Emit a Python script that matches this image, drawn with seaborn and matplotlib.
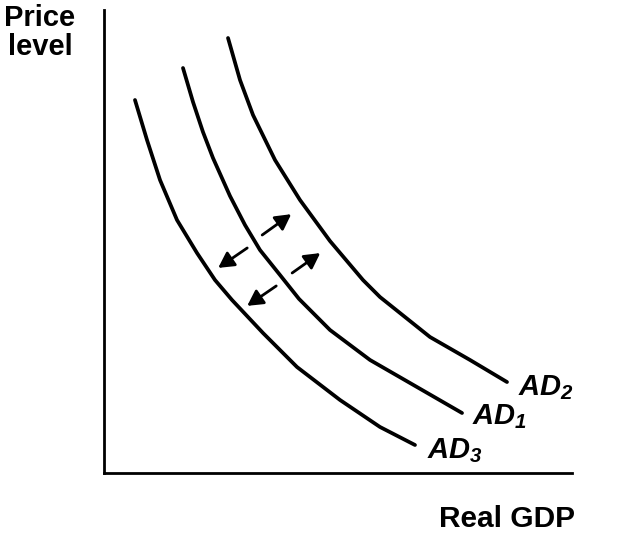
import seaborn as sns
import matplotlib.pyplot as plt
import pandas as pd

# curve points (Real GDP, Price level), axes run 0..100
ad3_x = [6.62, 9.19, 11.97, 15.60, 19.87, 23.72, 27.35, 33.97, 41.24, 50.43, 58.97, 66.45]
ad3_y = [80.56, 71.92, 63.28, 54.64, 47.52, 41.68, 37.37, 30.24, 22.89, 15.77, 9.94, 6.05]
ad1_x = [16.88, 19.02, 21.15, 23.29, 26.92, 30.13, 33.33, 37.61, 41.67, 48.29, 56.84, 65.38, 76.50]
ad1_y = [87.47, 80.13, 73.65, 68.03, 59.83, 53.56, 48.16, 42.76, 37.60, 30.89, 24.41, 19.44, 12.96]
ad2_x = [26.50, 29.06, 31.84, 36.54, 41.88, 48.29, 55.34, 58.97, 69.66, 78.21, 86.11]
ad2_y = [93.95, 84.88, 77.32, 67.60, 58.96, 50.10, 41.68, 38.01, 29.37, 24.41, 19.65]

curve_names = ['AD3', 'AD1', 'AD2']
label_text = [r'$AD_3$', r'$AD_1$', r'$AD_2$']
label_x = [69.0, 78.6, 88.5]
label_y = [3.2, 10.6, 16.8]

# shift arrows: (start, end)
arrows_out = [((33.8, 51.4), (40.0, 55.9)), ((40.2, 43.2), (46.2, 47.5))]
arrows_in = [((30.6, 48.6), (24.4, 44.3)), ((36.8, 40.4), (30.6, 36.1))]

rows = []
for name, xs, ys in zip(curve_names, [ad3_x, ad1_x, ad2_x], [ad3_y, ad1_y, ad2_y]):
    for i, (x, y) in enumerate(zip(xs, ys)):
        rows.append({'curve': name, 'order': i, 'gdp': x, 'price': y})
df = pd.DataFrame(rows)

sns.set_theme(style='white')
plt.rcParams['font.family'] = ['Liberation Sans', 'DejaVu Sans']
plt.rcParams['mathtext.fontset'] = 'custom'
plt.rcParams['mathtext.it'] = 'Liberation Sans:italic:bold'
plt.rcParams['mathtext.rm'] = 'Liberation Sans:italic:bold'

fig = plt.figure(figsize=(6.23, 5.43), dpi=100)
ax = fig.add_axes([104 / 623, 70 / 543, 468 / 623, 463 / 543])

sns.lineplot(data=df, x='gdp', y='price', hue='curve', units='curve',
             estimator=None, sort=False, palette=['black'] * 3,
             linewidth=2.7, legend=False, ax=ax)

for (x0, y0), (x1, y1) in arrows_out + arrows_in:
    ax.annotate('', xy=(x1, y1), xytext=(x0, y0),
                arrowprops=dict(arrowstyle='-|>,head_length=0.55,head_width=0.3',
                                color='black', lw=2.0,
                                mutation_scale=17, shrinkA=0, shrinkB=0))

for txt, x, y in zip(label_text, label_x, label_y):
    ax.text(x, y, txt, fontsize=21, ha='left', va='baseline', color='black')

ax.set_xlim(0, 100)
ax.set_ylim(0, 100)
ax.set_xticks([])
ax.set_yticks([])
ax.set_xlabel('')
ax.set_ylabel('')
for side in ['top', 'right']:
    ax.spines[side].set_visible(False)
for side in ['left', 'bottom']:
    ax.spines[side].set_color('black')
    ax.spines[side].set_linewidth(2.0)

fig.text(40 / 623, 1 - 55 / 543, 'Price\nlevel', fontsize=21, ha='center',
         va='baseline', linespacing=1.05, color='black', fontweight='bold')
fig.text(507 / 623, 1 - 527 / 543, 'Real GDP', fontsize=21.5, ha='center',
         va='baseline', color='black', fontweight='bold')

fig.savefig('out.png', dpi=100)
